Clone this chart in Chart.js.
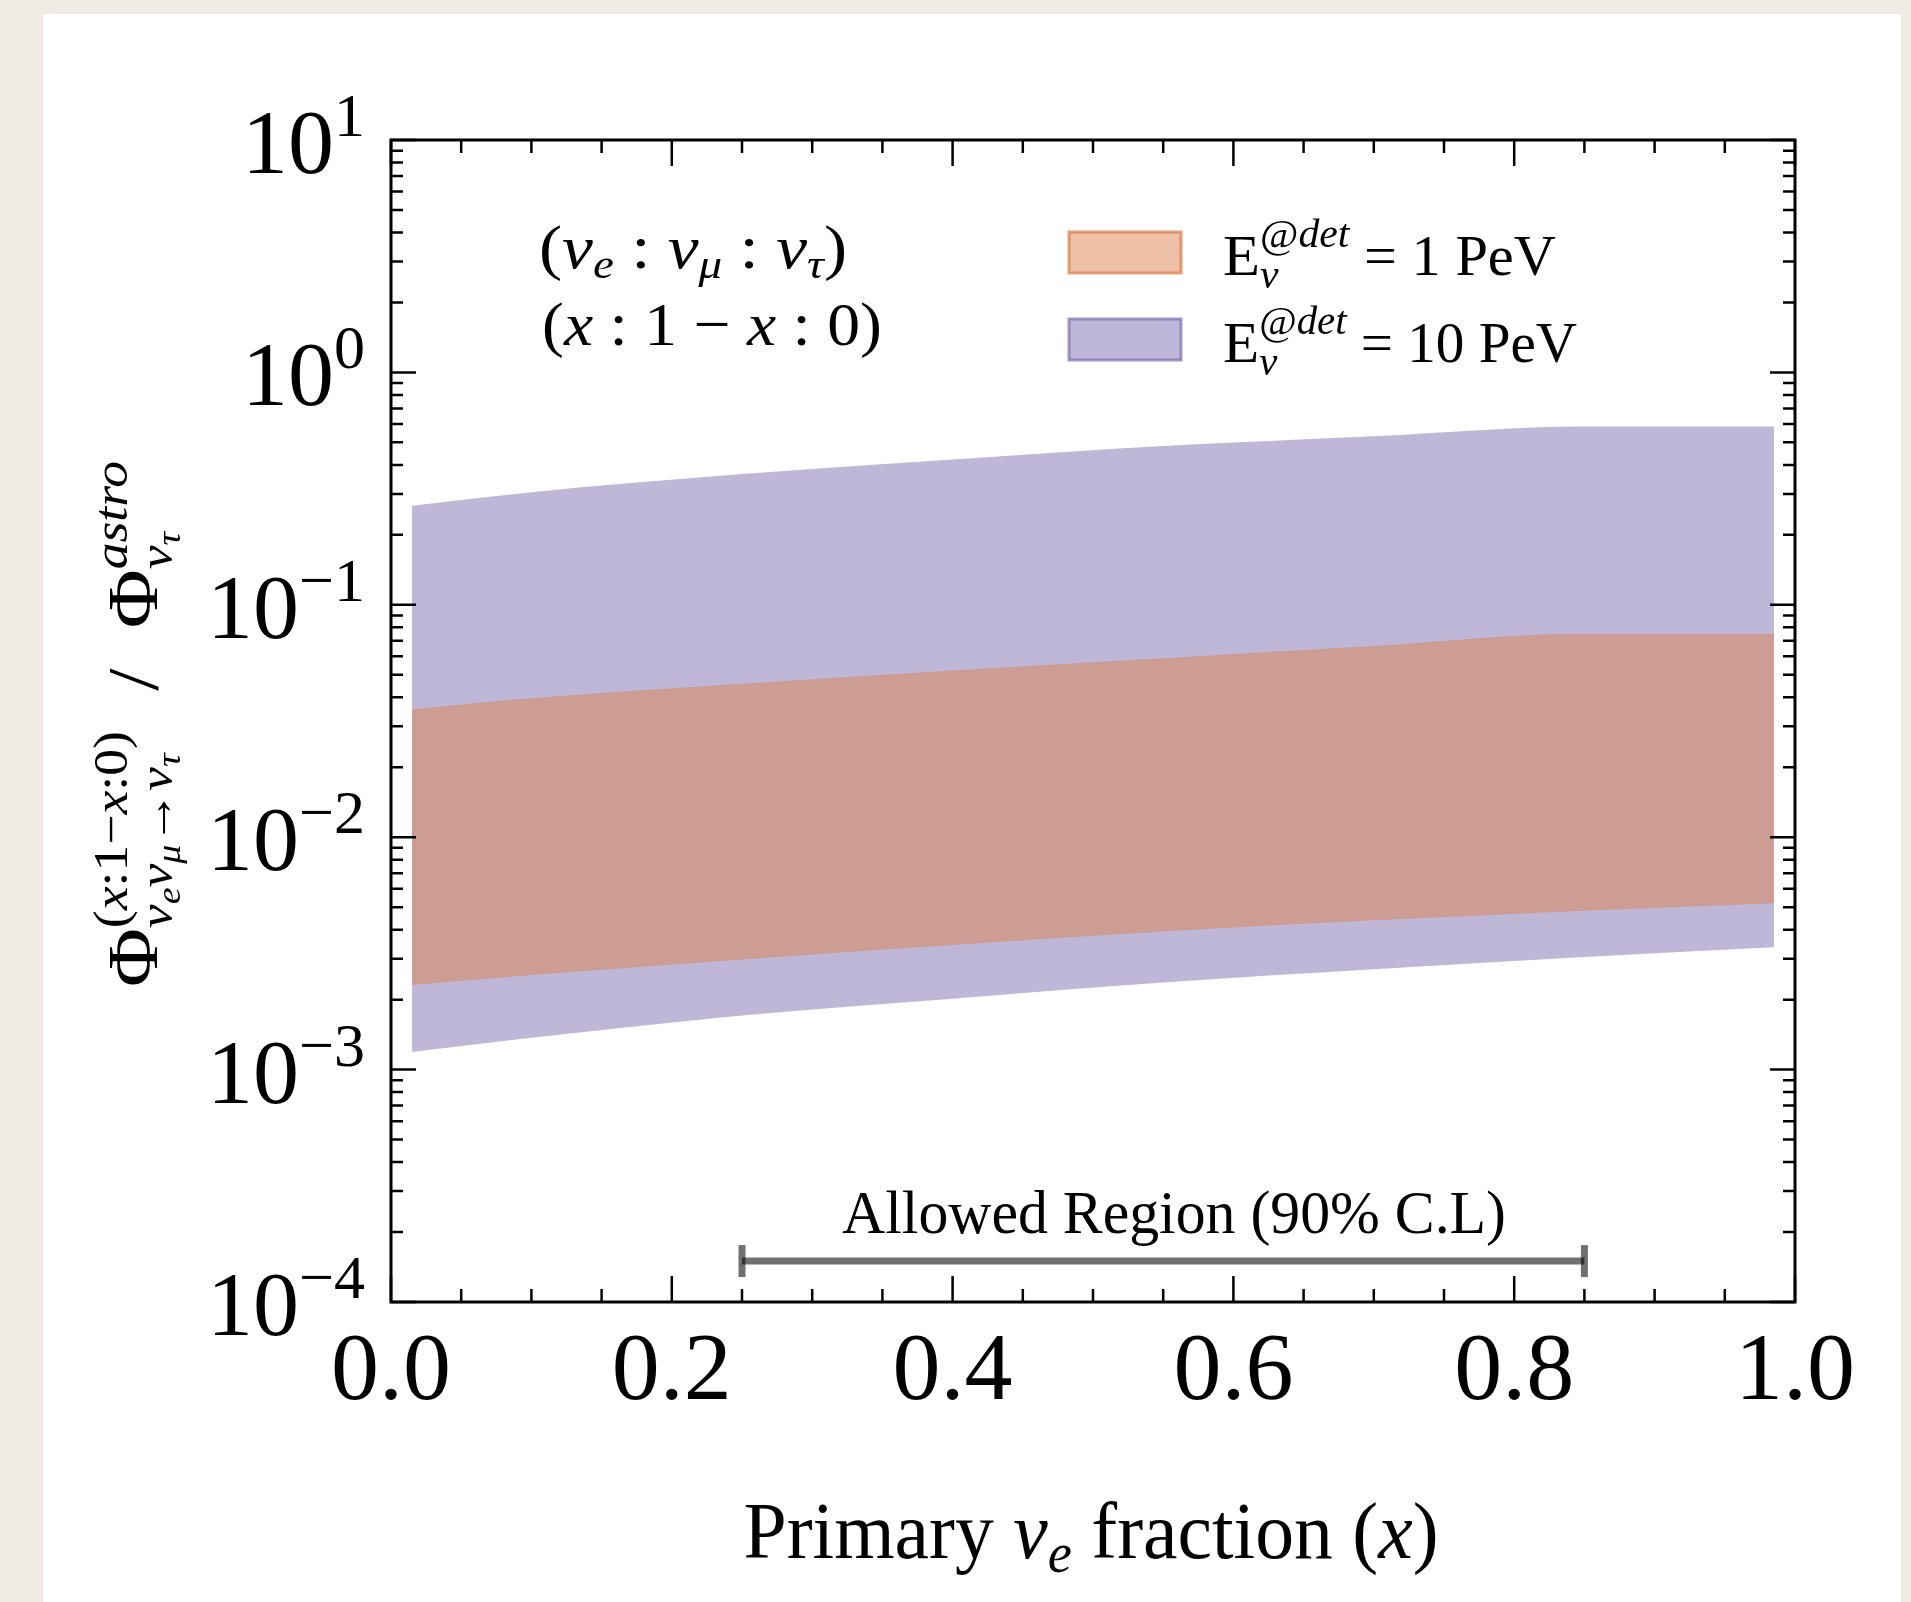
<!DOCTYPE html>
<html>
<head>
<meta charset="utf-8">
<script src="https://cdn.jsdelivr.net/npm/chart.js@4.4.1/dist/chart.umd.min.js"></script>
<style>
    body { margin: 0; width: 1911px; height: 1602px; overflow: hidden; background: #efebe2; position: relative; }
    #panel { position: absolute; left: 43px; top: 14px; width: 1858px; height: 1588px; background: #fff; }
    #c { position: absolute; left: 0; top: 0; }
</style>
</head>
<body>
<div id="panel"></div>
<canvas id="c" width="1911" height="1602"></canvas>
<script>
// primary nu_e fraction where the bands are sampled
const xFrac = [0.015, 0.1, 0.25, 0.4, 0.55, 0.7, 0.85, 0.985];
// E = 1 PeV band
const pev1Upper = [0.0355, 0.0396, 0.0457, 0.0522, 0.0589, 0.0665, 0.075, 0.075];
const pev1Lower = [0.00231, 0.00255, 0.00298, 0.00344, 0.00393, 0.00439, 0.00483, 0.0052];
// E = 10 PeV band
const pev10Upper = [0.267, 0.305, 0.365, 0.422, 0.482, 0.531, 0.585, 0.585];
const pev10Lower = [0.00119, 0.00137, 0.00171, 0.00202, 0.00237, 0.0027, 0.00305, 0.00336];
// allowed region bar
const allowedRange = [0.25, 0.85];
const allowedLevel = 1.5e-4;
// ticks
const xTicks = [0, 0.2, 0.4, 0.6, 0.8, 1.0];
const yDecades = [-4, -3, -2, -1, 0, 1];

const ORANGE = 'rgba(222,130,80,0.5)';
const PURPLE = 'rgba(125,111,177,0.5)';
const BAR = 'rgba(0,0,0,0.56)';
const SERIF = '"Liberation Serif", "DejaVu Serif", serif';

function pts(ys) {
    return xFrac.map((x, i) => ({ x: x, y: ys[i] }));
}

function R(t, s, opt) { return Object.assign({ t: t, s: s }, opt || {}); }
function fontOf(r) { return (r.i ? 'italic ' : '') + r.s + 'px ' + SERIF; }

function widthOf(ctx, items) {
    let w = 0;
    items.forEach(function (it) {
        if (it.stack) {
            w += Math.max.apply(null, it.stack.map(g => widthOf(ctx, g)));
        } else {
            ctx.font = fontOf(it);
            w += ctx.measureText(it.t).width;
        }
    });
    return w;
}
function drawItems(ctx, items, x, y) {
    items.forEach(function (it) {
        if (it.stack) {
            it.stack.forEach(g => drawItems(ctx, g, x, y));
            x += Math.max.apply(null, it.stack.map(g => widthOf(ctx, g)));
        } else {
            ctx.font = fontOf(it);
            ctx.fillText(it.t, x, y + (it.dy || 0));
            x += ctx.measureText(it.t).width;
        }
    });
}
function richText(ctx, items, x, y, o) {
    const w = widthOf(ctx, items);
    const sq = o.width ? o.width / w : (o.squeeze || 0.87);
    ctx.save();
    ctx.translate(x, y);
    if (o.rotate) ctx.rotate(o.rotate);
    ctx.scale(sq, 1);
    ctx.fillStyle = '#000';
    ctx.textBaseline = 'alphabetic';
    ctx.textAlign = 'left';
    let x0 = 0;
    if (o.align === 'center') x0 = -w / 2;
    if (o.align === 'right') x0 = -w;
    drawItems(ctx, items, x0, 0);
    ctx.restore();
}

const decorPlugin = {
    id: 'decor',
    afterDraw(chart) {
        const ctx = chart.ctx;
        const a = chart.chartArea;
        const xs = chart.scales.x, ys = chart.scales.y;

        // inward ticks on all four sides
        ctx.save();
        ctx.strokeStyle = '#000';
        ctx.lineWidth = 2.5;
        ctx.beginPath();
        for (let i = 0; i <= 20; i++) {
            const v = i / 20;
            const len = (i % 4 === 0) ? 26 : 13;
            const px = xs.getPixelForValue(v);
            ctx.moveTo(px, a.bottom); ctx.lineTo(px, a.bottom - len);
            ctx.moveTo(px, a.top); ctx.lineTo(px, a.top + len);
        }
        yDecades.forEach(function (k) {
            const py = ys.getPixelForValue(Math.pow(10, k));
            ctx.moveTo(a.left, py); ctx.lineTo(a.left + 25, py);
            ctx.moveTo(a.right, py); ctx.lineTo(a.right - 25, py);
            if (k < 1) {
                for (let m = 2; m <= 9; m++) {
                    const pm = ys.getPixelForValue(m * Math.pow(10, k));
                    ctx.moveTo(a.left, pm); ctx.lineTo(a.left + 12, pm);
                    ctx.moveTo(a.right, pm); ctx.lineTo(a.right - 12, pm);
                }
            }
        });
        ctx.stroke();
        ctx.lineWidth = 3;
        ctx.strokeRect(a.left, a.top, a.right - a.left, a.bottom - a.top);
        ctx.restore();

        // y tick labels 10^k
        yDecades.forEach(function (k) {
            const py = ys.getPixelForValue(Math.pow(10, k));
            const ex = k < 0 ? '\u2212' + (-k) : String(k);
            richText(ctx, [R('10', 92), R(ex, 62, { dy: -37 })], a.left - 26, py + 33, { align: 'right', squeeze: 1.0 });
        });

        // axis titles
        richText(ctx, [R('Primary ', 80), R('\u03bd', 80, { i: true }), R('e', 56, { i: true, dy: 14 }),
            R(' fraction (', 80), R('x', 80, { i: true }), R(')', 80)],
            (a.left + a.right) / 2 - 2, 1558, { align: 'center', width: 695 });

        richText(ctx, [
            R('\u03a6', 72),
            { stack: [
                [R('(', 48, { dy: -30 }), R('x', 48, { i: true, dy: -30 }), R(':1\u2212', 48, { dy: -30 }), R('x', 48, { i: true, dy: -30 }), R(':0)', 48, { dy: -30 })],
                [R('\u03bd', 48, { i: true, dy: 15 }), R('e', 34, { i: true, dy: 23 }), R('\u03bd', 48, { i: true, dy: 15 }), R('\u03bc', 34, { i: true, dy: 23 }),
                    R('\u2192', 48, { dy: 15 }), R('\u03bd', 48, { i: true, dy: 15 }), R('\u03c4', 34, { i: true, dy: 23 })]
            ] },
            R('  /  ', 72),
            R('\u03a6', 72),
            { stack: [
                [R('astro', 48, { i: true, dy: -30 })],
                [R('\u03bd', 48, { i: true, dy: 15 }), R('\u03c4', 34, { i: true, dy: 23 })]
            ] }
        ], 157, (a.top + a.bottom) / 2 + 3, { rotate: -Math.PI / 2, align: 'center', width: 526 });

        // flavour ratio annotation
        richText(ctx, [R('(', 62), R('\u03bd', 62, { i: true }), R('e', 42, { i: true, dy: 10 }), R(' : ', 62),
            R('\u03bd', 62, { i: true }), R('\u03bc', 42, { i: true, dy: 10 }), R(' : ', 62),
            R('\u03bd', 62, { i: true }), R('\u03c4', 42, { i: true, dy: 10 }), R(')', 62)],
            539, 268, { width: 308 });
        richText(ctx, [R('(', 62), R('x', 62, { i: true }), R(' : 1 \u2212 ', 62), R('x', 62, { i: true }), R(' : 0)', 62)],
            542, 345, { width: 340 });

        // legend
        const legend = [
            { ds: 0, label: ' = 1 PeV', top: 232, base: 275, width: 333 },
            { ds: 2, label: ' = 10 PeV', top: 319, base: 362, width: 354 }
        ];
        legend.forEach(function (l) {
            const d = chart.data.datasets[l.ds];
            ctx.save();
            ctx.fillStyle = d.backgroundColor;
            ctx.fillRect(1069, l.top, 112, 41);
            ctx.strokeStyle = d.legendEdge;
            ctx.lineWidth = 3;
            ctx.strokeRect(1069, l.top, 112, 41);
            ctx.restore();
            richText(ctx, [R('E', 58), { stack: [
                [R('@', 40, { dy: -28 }), R('det', 40, { i: true, dy: -28 })],
                [R('\u03bd', 40, { i: true, dy: 13 })]
            ] }, R(l.label, 56)], 1223, l.base, { width: l.width });
        });

        // allowed region label
        richText(ctx, [R('Allowed Region (90% C.L)', 62)], 1174, 1233, { align: 'center', width: 664 });
    }
};

new Chart(document.getElementById('c'), {
    type: 'line',
    data: {
        datasets: [
            { label: '1 PeV upper', data: pts(pev1Upper), backgroundColor: ORANGE, legendEdge: 'rgba(222,130,80,0.75)', fill: '+1', borderWidth: 0, pointRadius: 0 },
            { label: '1 PeV lower', data: pts(pev1Lower), fill: false, borderWidth: 0, pointRadius: 0 },
            { label: '10 PeV upper', data: pts(pev10Upper), backgroundColor: PURPLE, legendEdge: 'rgba(125,111,177,0.7)', fill: '+1', borderWidth: 0, pointRadius: 0 },
            { label: '10 PeV lower', data: pts(pev10Lower), fill: false, borderWidth: 0, pointRadius: 0 },
            {
                label: 'Allowed Region (90% C.L)',
                data: allowedRange.map(x => ({ x: x, y: allowedLevel })),
                borderColor: BAR, borderWidth: 7, fill: false,
                pointStyle: 'line', rotation: 90, pointRadius: 16,
                pointBorderColor: BAR, pointBorderWidth: 7
            }
        ]
    },
    options: {
        responsive: false,
        animation: false,
        devicePixelRatio: 1,
        cubicInterpolationMode: 'monotone',
        layout: { padding: { left: 391, top: 140, right: 116, bottom: 0 } },
        plugins: { legend: { display: false }, tooltip: { enabled: false } },
        scales: {
            x: {
                type: 'linear', min: 0, max: 1, position: 'bottom',
                grid: { display: false, drawTicks: false },
                border: { display: false },
                afterBuildTicks: s => { s.ticks = xTicks.map(v => ({ value: v })); },
                afterFit: s => { s.height = 300; },
                ticks: {
                    padding: 14, maxRotation: 0, autoSkip: false, color: '#000',
                    font: { family: SERIF, size: 96 },
                    callback: v => Number(v).toFixed(1)
                }
            },
            y: {
                type: 'logarithmic', min: 1e-4, max: 10,
                grid: { display: false },
                border: { display: false },
                ticks: { display: false },
                afterFit: s => { s.width = 0; }
            }
        }
    },
    plugins: [decorPlugin]
});
</script>
</body>
</html>
